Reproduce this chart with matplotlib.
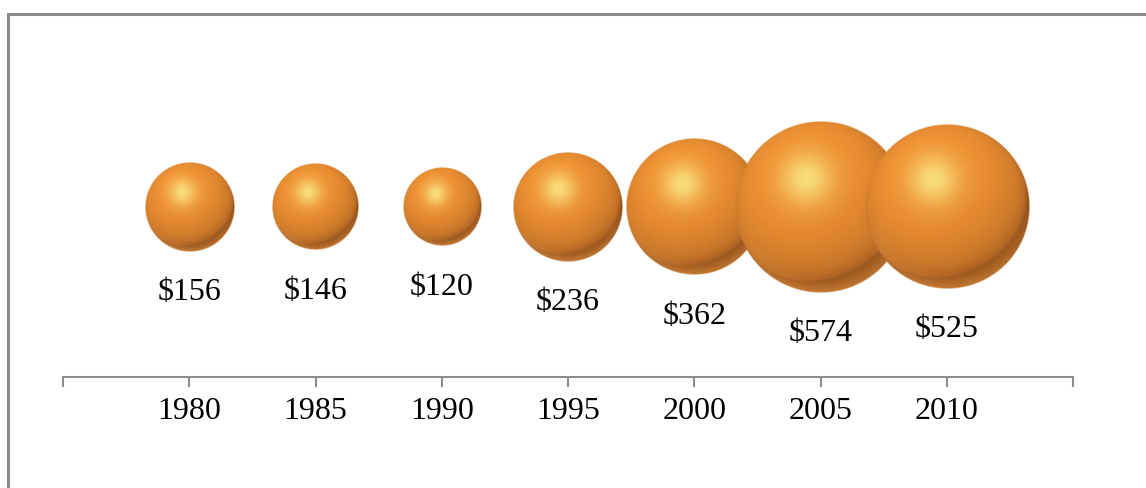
import numpy as np
import matplotlib
matplotlib.use('Agg')
import matplotlib.pyplot as plt
from matplotlib.patches import Rectangle

years = [1980, 1985, 1990, 1995, 2000, 2005, 2010]
costs = [156, 146, 120, 236, 362, 574, 525]
labels = ['$156', '$146', '$120', '$236', '$362', '$574', '$525']

plt.rcParams['font.family'] = ['Liberation Serif', 'DejaVu Serif']

W, H = 1146, 489
fig = plt.figure(figsize=(W / 100, H / 100), dpi=100)
ax = fig.add_axes([63 / W, 111 / H, (1073 - 63) / W, (378 - 14) / H])
ax.set_xlim(1975, 2015)
ax.set_ylim(0, 2.14)


def sphere(n):
    # rgba image of a shaded orange ball, n x n pixels
    t = np.linspace(-1, 1, n)
    nx, ny = np.meshgrid(t, -t)
    rr = np.sqrt(nx ** 2 + ny ** 2)
    nz = np.sqrt(np.clip(1 - rr ** 2, 0, 1))
    L = np.array([-0.25, 0.5, 0.83])
    L = L / np.linalg.norm(L)
    diff = np.clip(nx * L[0] + ny * L[1] + nz * L[2], 0, 1)
    base = np.array([242, 148, 52]) / 255
    dark = np.array([150, 82, 28]) / 255
    hi = np.array([250, 238, 140]) / 255
    col = dark + (base - dark) * (diff[..., None] ** 0.45)
    d2 = (nx + 0.17) ** 2 + (ny - 0.33) ** 2
    spec = np.exp(-d2 / 0.09)[..., None]
    col = col * (1 - 0.8 * spec) + hi * 0.8 * spec
    # light rim at the bottom
    rim = np.clip((rr - 0.8) / 0.2, 0, 1) * np.clip(-ny, 0, 1)
    col = col * (1 - 0.55 * rim[..., None]) + np.array([236, 156, 72]) / 255 * 0.55 * rim[..., None]
    alpha = np.clip((1 - rr) * n / 2, 0, 1)
    img = np.dstack([np.clip(col, 0, 1), alpha])
    return img


ax_w = (1073 - 63)
ax_h = (378 - 14)
px_x = ax_w / 40.0
px_y = ax_h / 2.14
k = 3.58

for i, (yr, c, lab) in enumerate(zip(years, costs, labels)):
    r = k * np.sqrt(c)
    dx = r / px_x
    dy = r / px_y
    ax.imshow(sphere(int(4 * r)), extent=[yr - dx, yr + dx, 1 - dy, 1 + dy],
              aspect='auto', interpolation='bilinear', zorder=2 + i)
    ax.annotate(lab, (yr, 1), xytext=(0, -(r + 40)), textcoords='offset pixels',
                ha='center', va='center', fontsize=23, color='black', zorder=20)

ax.set_xlim(1975, 2015)
ax.set_ylim(0, 2.14)
ax.set_xticks(years)
ax.set_xticklabels([str(y) for y in years], fontsize=23)
ax.set_xticks([1975, 2015], minor=True)
ax.tick_params(axis='x', which='both', direction='out', length=7.5, width=1.5,
               color='#8c8c8c', pad=6)
ax.set_yticks([])
for s in ['top', 'left', 'right']:
    ax.spines[s].set_visible(False)
ax.spines['bottom'].set_color('#8c8c8c')
ax.spines['bottom'].set_linewidth(1.5)
ax.patch.set_alpha(0)

fig.patches.append(Rectangle((7.5 / W, -0.1), 1.2, 1.1 - 14.5 / H, transform=fig.transFigure,
                             fill=False, edgecolor='#8a8a8a', linewidth=2.2, clip_on=False))

fig.savefig('out.png', dpi=100)
